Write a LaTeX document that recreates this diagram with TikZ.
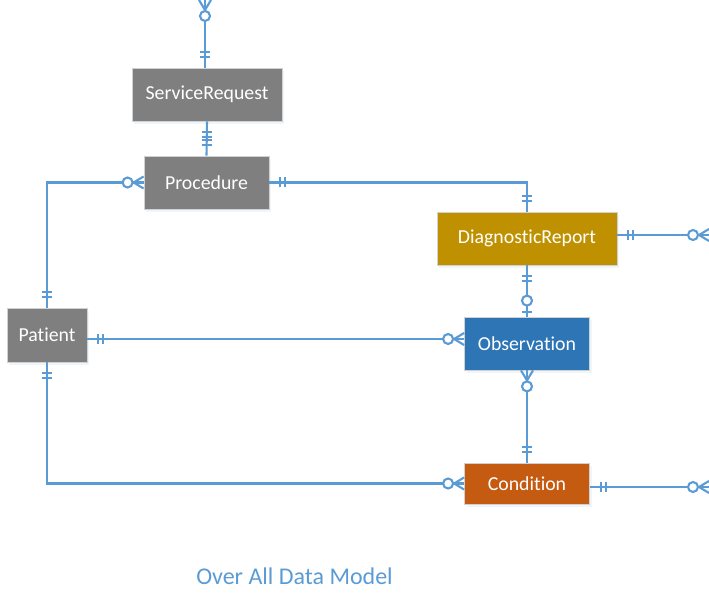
\documentclass[tikz,border=0pt]{standalone}
\usepackage{fontspec}
\setmainfont[Ligatures=NoCommon]{Carlito}
\usetikzlibrary{calc,shadows}
\definecolor{lnblue}{HTML}{5B9BD5}
\definecolor{titleblue}{HTML}{5B9BD5}
\definecolor{entgrey}{HTML}{7F7F7F}
\definecolor{drgold}{HTML}{BF9000}
\definecolor{obsblue}{HTML}{2E75B6}
\definecolor{condorange}{HTML}{C55A11}
\begin{document}
\begin{tikzpicture}[x=1pt,y=1pt,
  conn/.style={draw=lnblue,line width=2.1pt},
  ent/.style={draw=black!18,line width=0.8pt,text=white,
    font=\fontsize{19.8}{23}\selectfont,minimum height=53pt,inner sep=0pt,
    drop shadow={shadow xshift=2pt,shadow yshift=-3pt,fill=lnblue!40,opacity=0.25}},
  pics/onlyone/.style={code={\draw[conn] (11,-5)--(11,5) (16,-5)--(16,5);}},
  pics/zeromany/.style={code={\draw[conn] (0,6)--(10,0) (0,-6)--(10,0);
      \draw[conn,fill=white] (16,0) circle (5);}},
  pics/zeroone/.style={code={\draw[conn] (5,-5)--(5,5);
      \draw[conn,fill=white] (16,0) circle (5);}},
]
\useasboundingbox (0,0) rectangle (709,603);

% entities
\node[ent,fill=entgrey,minimum width=150pt] (SR) at (207,508.5) {ServiceRequest};
\node[ent,fill=entgrey,minimum width=125pt] (Proc) at (206.5,420.5) {Procedure};
\node[ent,fill=drgold,minimum width=180pt] (DR) at (527,364.5) {DiagnosticReport};
\node[ent,fill=obsblue,minimum width=125pt] (Obs) at (527,259.5) {Observation};
\node[ent,fill=entgrey,minimum width=80pt,minimum height=54pt] (Pat) at (47,268) {Patient};
\node[ent,fill=condorange,minimum width=125pt,minimum height=41pt] (Cond) at (527,119.5) {Condition};

% free ends and offsets
\coordinate (topEnd) at (205,603);
\coordinate (drEnd) at (709,368);
\coordinate (cEnd) at (709,116);
\coordinate (po) at ($(Pat.east)+(0,-4)$);

% connectors
\draw[conn] (topEnd) -- (topEnd |- SR.north);
\draw[conn] (SR.south) -- (Proc.north);
\draw[conn] (Proc.west) -- (Proc.west -| Pat.north) -- (Pat.north);
\draw[conn] (Proc.east) -- (Proc.east -| DR.north) -- (DR.north);
\draw[conn] (DR.east |- drEnd) -- (drEnd);
\draw[conn] (DR.south) -- (Obs.north);
\draw[conn] (po) -- (po -| Obs.west);
\draw[conn] (Obs.south) -- (Cond.north);
\draw[conn] (Pat.south) -- (Pat.south |- Cond.west) -- (Cond.west);
\draw[conn] (Cond.east |- cEnd) -- (cEnd);

% cardinality marks
\pic[rotate=90] at (topEnd |- SR.north) {onlyone};
\pic[rotate=-90] at (topEnd) {zeromany};
\pic[rotate=-90] at (SR.south) {onlyone};
\pic[rotate=90] at (Proc.north) {onlyone};
\pic[rotate=180] at (Proc.west) {zeromany};
\pic[rotate=90] at (Pat.north) {onlyone};
\pic at (Proc.east) {onlyone};
\pic[rotate=90] at (DR.north) {onlyone};
\pic at (DR.east |- drEnd) {onlyone};
\pic[rotate=180] at (drEnd) {zeromany};
\pic[rotate=-90] at (DR.south) {onlyone};
\pic[rotate=90] at (Obs.north) {zeroone};
\pic at (po) {onlyone};
\pic[rotate=180] at (po -| Obs.west) {zeromany};
\pic[rotate=-90] at (Obs.south) {zeromany};
\pic[rotate=90] at (Cond.north) {onlyone};
\pic[rotate=-90] at (Pat.south) {onlyone};
\pic[rotate=180] at (Cond.west) {zeromany};
\pic at (Cond.east |- cEnd) {onlyone};
\pic[rotate=180] at (cEnd) {zeromany};

% title
\node[text=titleblue,font=\fontsize{24}{28}\selectfont] (title) at (294.5,27) {Over All Data Model};
\end{tikzpicture}
\end{document}
